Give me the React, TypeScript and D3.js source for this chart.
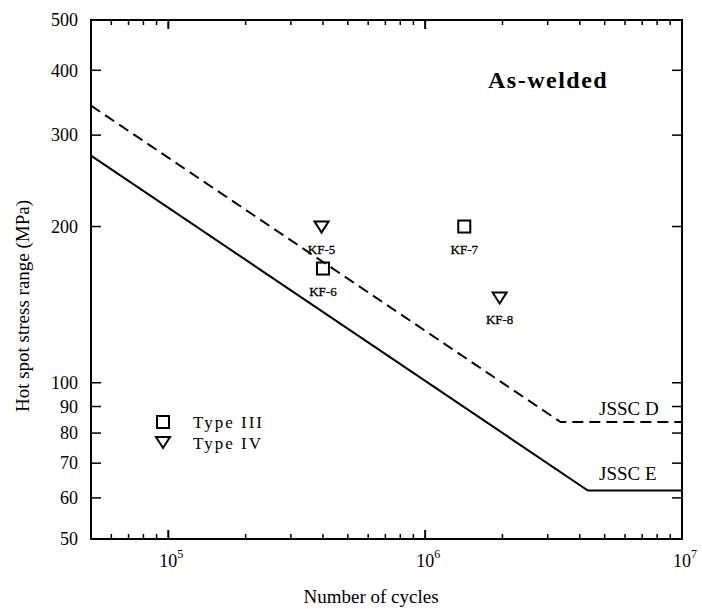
import React from "react";
import * as d3 from "d3";

const W = 702, H = 609;
const X0 = 91, X1 = 682, Y0 = 539, Y1 = 20;

const xDomain = [5e4, 1e7];
const yDomain = [50, 500];
const yTickValues = [50, 60, 70, 80, 90, 100, 200, 300, 400, 500];
const yTickLabels = ["50", "60", "70", "80", "90", "100", "200", "300", "400", "500"];
const xMajorExp = [5, 6, 7];

// S-N design curves (cycles, MPa)
const jsscD = [[5e4, 342], [3.37e6, 84], [1e7, 84]];
const jsscE = [[5e4, 274], [4.3e6, 62], [1e7, 62]];

// Test points
const typeIII = [
  { id: "KF-6", n: 4.0e5, s: 166 },
  { id: "KF-7", n: 1.42e6, s: 200 },
];
const typeIV = [
  { id: "KF-5", n: 3.95e5, s: 200 },
  { id: "KF-8", n: 1.95e6, s: 146 },
];

const FONT = "'Liberation Serif', 'Times New Roman', serif";

export default function App() {
  const x = d3.scaleLog().domain(xDomain).range([X0, X1]);
  const y = d3.scaleLog().domain(yDomain).range([Y0, Y1]);
  const line = d3.line<number[]>().x((d) => x(d[0])).y((d) => y(d[1]));

  const minorX: number[] = [];
  for (let e = 4; e <= 6; e++) {
    for (let k = 2; k <= 9; k++) {
      const v = k * Math.pow(10, e);
      if (v > xDomain[0] && v < xDomain[1]) minorX.push(v);
    }
  }

  const tri = (cx: number, cy: number) =>
    `M${cx - 7},${cy - 5} L${cx + 7},${cy - 5} L${cx},${cy + 6} Z`;

  return (
    <svg
      width={W}
      height={H}
      style={{ position: "absolute", left: 0, top: 0, background: "#fff" }}
      fontFamily={FONT}
    >
      <rect x={0} y={0} width={W} height={H} fill="#fff" />
      {/* curves */}
      <path d={line(jsscD) || ""} fill="none" stroke="#000" strokeWidth={2} strokeDasharray="11,6" />
      <path d={line(jsscE) || ""} fill="none" stroke="#000" strokeWidth={2} />

      {/* frame */}
      <rect x={X0} y={Y1} width={X1 - X0} height={Y0 - Y1} fill="none" stroke="#000" strokeWidth={2} />

      {/* x ticks */}
      {minorX.map((v, i) => (
        <g key={"mx" + i}>
          <line x1={x(v)} x2={x(v)} y1={Y0} y2={Y0 - 5} stroke="#000" strokeWidth={1.5} />
          <line x1={x(v)} x2={x(v)} y1={Y1} y2={Y1 + 5} stroke="#000" strokeWidth={1.5} />
        </g>
      ))}
      {xMajorExp.map((e) => {
        const px = x(Math.pow(10, e));
        return (
          <g key={"MX" + e}>
            <line x1={px} x2={px} y1={Y0} y2={Y0 - 9} stroke="#000" strokeWidth={2} />
            <line x1={px} x2={px} y1={Y1} y2={Y1 + 9} stroke="#000" strokeWidth={2} />
            <text x={px + 9} y={567} fontSize={18} textAnchor="end">10</text>
            <text x={px + 9} y={558} fontSize={12} textAnchor="start">{e}</text>
          </g>
        );
      })}

      {/* y ticks */}
      {yTickValues.map((v, i) => (
        <g key={"y" + v}>
          <line x1={X0} x2={X0 + 10} y1={y(v)} y2={y(v)} stroke="#000" strokeWidth={1.5} />
          <line x1={X1} x2={X1 - 10} y1={y(v)} y2={y(v)} stroke="#000" strokeWidth={1.5} />
          <text x={78} y={y(v)} dy="0.35em" fontSize={18} textAnchor="end">{yTickLabels[i]}</text>
        </g>
      ))}

      {/* axis titles */}
      <text x={371} y={603} fontSize={19} textAnchor="middle">Number of cycles</text>
      <text
        transform={`translate(29,306) rotate(-90)`}
        fontSize={19}
        textAnchor="middle"
      >
        Hot spot stress range (MPa)
      </text>

      {/* title */}
      <text x={488} y={88} fontSize={24} fontWeight="bold" letterSpacing={1.5}>As-welded</text>

      {/* curve labels */}
      <text x={599} y={415} fontSize={19}>JSSC D</text>
      <text x={599} y={480} fontSize={19}>JSSC E</text>

      {/* points */}
      {typeIII.map((p) => (
        <rect key={p.id} x={x(p.n) - 6} y={y(p.s) - 6} width={12} height={12} fill="none" stroke="#000" strokeWidth={2} />
      ))}
      {typeIV.map((p) => (
        <path key={p.id} d={tri(x(p.n), y(p.s))} fill="none" stroke="#000" strokeWidth={2} />
      ))}
      {[...typeIII, ...typeIV].map((p) => (
        <text key={"l" + p.id} x={x(p.n)} y={y(p.s) + 27} fontSize={13} textAnchor="middle" stroke="#000" strokeWidth={0.3}>{p.id}</text>
      ))}

      {/* legend */}
      <rect x={157} y={416} width={12} height={12} fill="none" stroke="#000" strokeWidth={2} />
      <path d={tri(163, 442)} fill="none" stroke="#000" strokeWidth={2} />
      <text x={193} y={428} fontSize={17} letterSpacing={2}>Type III</text>
      <text x={193} y={449} fontSize={17} letterSpacing={2}>Type IV</text>
    </svg>
  );
}
